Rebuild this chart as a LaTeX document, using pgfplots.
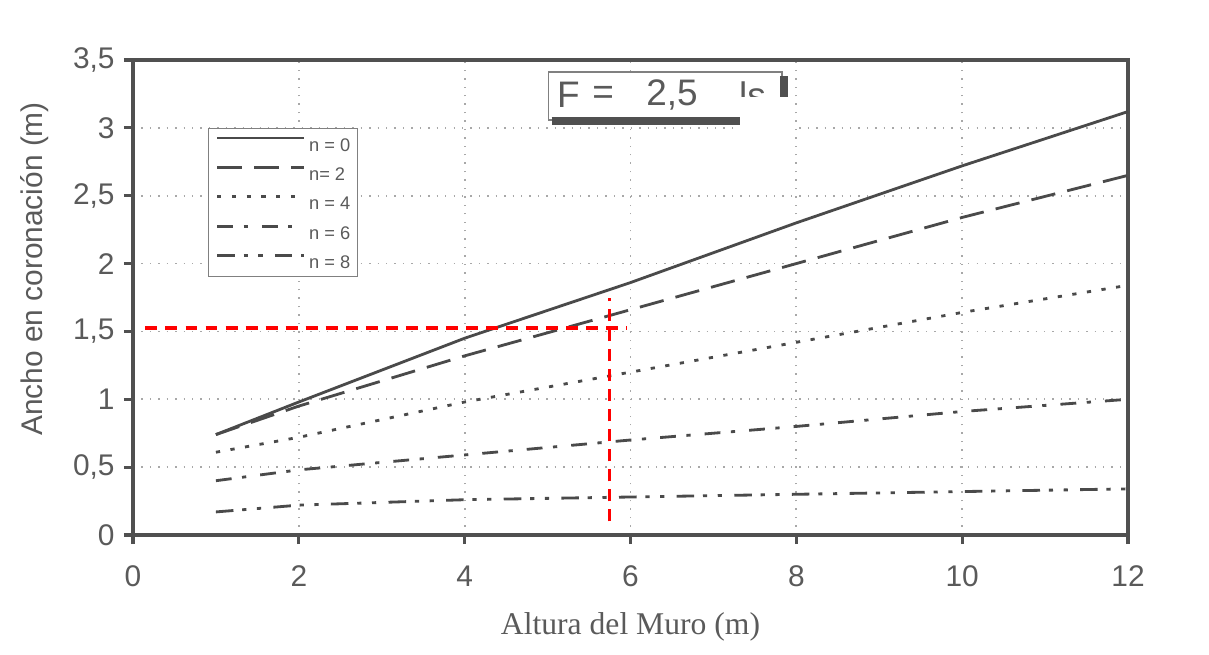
\documentclass[border=0pt]{standalone}
\usepackage{fontspec}
\setmainfont{Liberation Sans}
\newfontfamily\serif{Liberation Serif}
\usepackage{pgfplots}
\pgfplotsset{compat=1.18}
\definecolor{ink}{HTML}{4A4A4A}
\definecolor{axc}{HTML}{505050}
\definecolor{txt}{HTML}{5A5A5A}
\definecolor{grd}{HTML}{A8A8A8}
\begin{document}
\begin{tikzpicture}
\useasboundingbox (-1.33cm,-1.20cm) rectangle (10.76cm,5.35cm);
\begin{axis}[
  scale only axis, width=9.95cm, height=4.75cm,
  at={(0,0)}, anchor=south west,
  xmin=0, xmax=12, ymin=0, ymax=3.5,
  xtick={0,2,4,6,8,10,12},
  ytick={0,0.5,1,1.5,2,2.5,3,3.5},
  axis line style={axc, line width=1pt},
  tick style={axc, line width=0.9pt},
  tick align=outside, major tick length=0.09cm,
  xtick pos=left, ytick pos=left,
  grid=major, grid style={grd, dotted, line width=0.5pt},
  ticklabel style={font=\fontsize{8.5}{9}\selectfont, text=txt},
  /pgf/number format/assume math mode=true,
  /pgf/number format/use comma,
  xticklabel style={anchor=center, yshift=-0.32cm},
  yticklabel style={anchor=east, xshift=0.03cm},
  xlabel={\serif Altura del Muro (m)},
  xlabel style={at={(rel axis cs:0.5,0)}, anchor=center, yshift=-0.92cm, font=\fontsize{9}{10}\selectfont, text=txt},
  ylabel={Ancho en coronación (m)},
  ylabel style={at={(axis description cs:-0.0985,0.56)}, anchor=center, font=\fontsize{8.5}{9}\selectfont, text=txt},
  clip=false,
  legend image code/.code={\draw[#1] (0cm,0.06cm) -- (0.87cm,0.06cm);},
  legend style={at={(axis cs:0.905,3.0)}, anchor=north west, draw=gray, fill=white,
    font=\fontsize{5.2}{6}\selectfont, text=txt, inner xsep=2pt, inner ysep=2.3pt,
    row sep=4.25pt, nodes={inner sep=0pt, text height=4pt, text depth=0pt},
    /tikz/every even column/.append style={column sep=0pt},
    /tikz/every odd column/.append style={column sep=1pt}},
  legend cell align=left,
]
\addplot[ink, line width=0.8pt] coordinates {(1,0.74) (2,0.98) (4,1.45) (6,1.86) (8,2.30) (10,2.72) (12,3.12)};
\addlegendentry{n = 0}
\addplot[ink, line width=0.8pt, dash pattern=on 7pt off 3.5pt] coordinates {(1,0.74) (2,0.95) (4,1.32) (6,1.66) (8,2.00) (10,2.34) (12,2.65)};
\addlegendentry{n= 2}
\addplot[ink, line width=0.8pt, dash pattern=on 1.2pt off 3pt] coordinates {(1,0.61) (2,0.72) (4,0.98) (6,1.20) (8,1.42) (10,1.64) (12,1.84)};
\addlegendentry{n = 4}
\addplot[ink, line width=0.8pt, dash pattern=on 4.5pt off 3pt on 1.2pt off 4pt] coordinates {(1,0.40) (2,0.48) (4,0.59) (6,0.70) (8,0.80) (10,0.91) (12,1.00)};
\addlegendentry{n = 6}
\addplot[ink, line width=0.8pt, dash pattern=on 5pt off 2.5pt on 1.2pt off 3pt on 1.2pt off 3.5pt] coordinates {(1,0.17) (2,0.22) (4,0.26) (6,0.28) (8,0.30) (10,0.32) (12,0.34)};
\addlegendentry{n = 8}
% red reading guides
\addplot[red, line width=0.9pt, dash pattern=on 3.4pt off 2.3pt, forget plot] coordinates {(0.15,1.525) (5.96,1.525)};
\addplot[red, line width=0.9pt, dash pattern=on 3.4pt off 2.3pt, forget plot] coordinates {(5.75,0.10) (5.75,1.75)};
% title box
\fill[white] (axis cs:5.01,3.06) rectangle (axis cs:7.83,3.41);
\draw[gray, line width=0.5pt] (axis cs:5.01,3.06) rectangle (axis cs:7.83,3.41);
\draw[axc, line width=2.2pt] (axis cs:5.05,3.05) -- (axis cs:7.85,3.05) -- (axis cs:7.85,3.38);
\node[font=\fontsize{10.5}{11}\selectfont, text=txt] at (axis cs:5.25,3.24) {F};
\node[font=\fontsize{10.5}{11}\selectfont, text=txt] at (axis cs:5.67,3.24) {=};
\node[font=\fontsize{10.5}{11}\selectfont, text=txt] at (axis cs:6.50,3.24) {2,5};
\node[font=\fontsize{10.5}{11}\selectfont, text=txt] at (axis cs:7.47,3.24) {ls};
\fill[white] (axis cs:7.32,2.95) rectangle (axis cs:7.95,3.23);
\end{axis}
\end{tikzpicture}
\end{document}
